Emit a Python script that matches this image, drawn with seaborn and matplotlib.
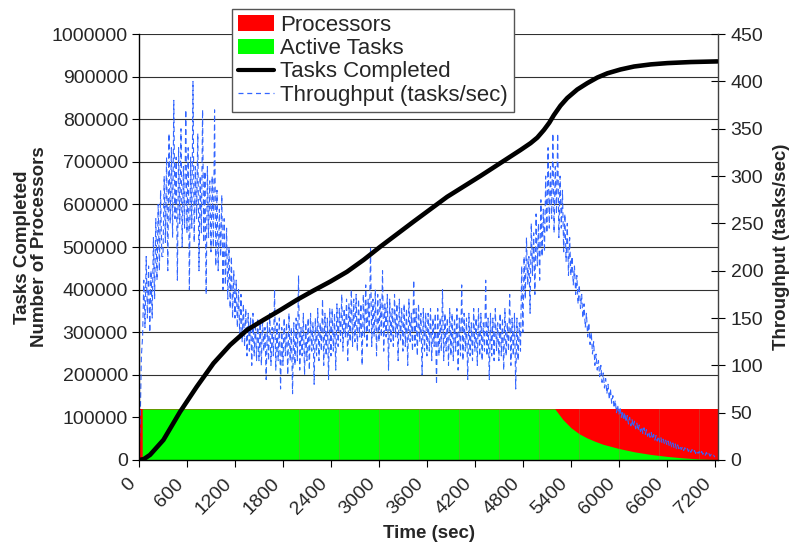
import numpy as np
import pandas as pd
import matplotlib
matplotlib.use("Agg")
import matplotlib.pyplot as plt
import seaborn as sns
from matplotlib.patches import Patch
from matplotlib.lines import Line2D

# ---------------- data ----------------
# Throughput (tasks/sec), sampled every 15 s from 0 to 7200
tp_time = list(range(0, 7201, 15))
tp_values = [
    0, 40, 110, 130, 190, 140, 215, 150, 205, 135, 200, 150, 235, 170, 255, 190, 270, 200, 285, 215,
    215, 300, 230, 320, 200, 345, 250, 330, 235, 380, 255, 320, 190, 330, 250, 350, 225, 310, 245, 370,
    240, 330, 180, 320, 245, 400, 230, 310, 255, 345, 200, 300, 240, 370, 230, 305, 175, 310, 235, 295,
    220, 300, 225, 370, 205, 285, 200, 265, 215, 280, 180, 255, 185, 245, 170, 225, 160, 215, 150, 200,
    150, 190, 140, 180, 130, 175, 125, 165, 120, 160, 110, 155, 115, 150, 100, 155, 110, 145, 105, 150,
    105, 145, 100, 150, 115, 140, 85, 145, 105, 155, 100, 140, 110, 180, 95, 145, 105, 150, 75, 140,
    100, 150, 110, 145, 90, 155, 105, 140, 70, 145, 100, 150, 105, 195, 95, 140, 110, 155, 90, 145,
    105, 150, 95, 155, 115, 145, 80, 150, 110, 160, 105, 145, 115, 170, 100, 155, 110, 150, 85, 160,
    110, 160, 115, 155, 95, 165, 120, 160, 125, 175, 115, 160, 130, 170, 105, 165, 125, 180, 120, 170,
    125, 175, 115, 170, 130, 165, 100, 175, 130, 185, 120, 170, 135, 225, 120, 170, 130, 180, 110, 175,
    125, 170, 130, 200, 115, 165, 130, 175, 95, 170, 125, 160, 120, 175, 130, 165, 105, 170, 125, 160,
    115, 165, 120, 160, 100, 170, 125, 155, 115, 190, 120, 160, 110, 165, 125, 155, 90, 160, 115, 155,
    110, 155, 115, 160, 105, 150, 120, 155, 80, 160, 110, 150, 115, 180, 105, 155, 115, 150, 100, 160,
    110, 155, 105, 150, 115, 160, 95, 150, 110, 185, 105, 155, 115, 150, 85, 155, 110, 145, 105, 160,
    115, 150, 100, 160, 110, 155, 105, 145, 115, 190, 110, 150, 85, 155, 110, 150, 105, 160, 115, 145,
    105, 155, 110, 150, 95, 160, 110, 145, 115, 175, 100, 150, 110, 155, 75, 150, 105, 145, 115, 205,
    135, 215, 170, 235, 185, 215, 155, 250, 195, 240, 175, 260, 205, 250, 190, 275, 215, 265, 220, 300,
    240, 330, 245, 310, 255, 345, 240, 310, 260, 345, 235, 300, 245, 285, 220, 260, 210, 250, 195, 235,
    195, 215, 185, 205, 175, 195, 165, 185, 160, 175, 150, 165, 140, 155, 130, 145, 122, 135, 112, 125,
    100, 112, 95, 105, 88, 100, 82, 92, 76, 86, 70, 80, 64, 75, 60, 68, 55, 63, 50, 58,
    48, 56, 45, 52, 42, 50, 40, 47, 38, 45, 36, 43, 35, 41, 33, 39, 31, 37, 30, 35,
    28, 34, 27, 32, 25, 30, 24, 29, 22, 27, 21, 26, 20, 25, 19, 24, 18, 22, 17, 21,
    16, 20, 15, 19, 14, 18, 13, 17, 12, 16, 12, 15, 11, 14, 10, 13, 10, 12, 9, 12,
    8, 11, 8, 10, 7, 10, 7, 9, 6, 9, 6, 8, 5, 8, 5, 7, 4, 6, 4, 5,
    3,
]

# Tasks completed (cumulative)
tc_time = [0, 60, 138, 305, 513, 722, 931, 1139, 1348, 1557, 1766, 1974,
           2183, 2392, 2601, 2809, 3018, 3435, 3853, 4270, 4771, 4896,
           4980, 5063, 5130, 5188, 5270, 5355, 5480, 5606, 5730, 5856,
           6020, 6190, 6400, 6607, 6900, 7232]
tc_values = [0, 2000, 12000, 47000, 113000, 172000, 227000, 270000, 305000,
             329000, 352000, 376000, 398000, 419000, 442000, 470000, 501000,
             560000, 618000, 667000, 728000, 744000, 757000, 775000, 792000,
             810000, 832000, 850000, 870000, 885000, 898000, 908000, 917000,
             924000, 929000, 932000, 934500, 936000]

# Processors (allocated)
proc_time = [10, 7240]
proc_values = [120000, 120000]

# Active tasks
act_time = [40, 5200, 5300, 5400, 5500, 5600, 5700, 5800, 5900, 6000,
            6200, 6400, 6600, 6800, 7000, 7240]
act_values = [120000, 120000, 95000, 76000, 62000, 52000, 44000, 37000,
              32000, 27000, 19000, 13000, 8500, 5000, 2500, 1000]

x_ticks = list(range(0, 7201, 600))
left_ticks = list(range(0, 1000001, 100000))
right_ticks = list(range(0, 451, 50))
seams = list(range(2000, 7001, 500))

# ---------------- style ----------------
sns.set_style("white")
plt.rcParams["font.family"] = ["Liberation Sans", "DejaVu Sans"]

fig = plt.figure(figsize=(7.92, 5.42), dpi=100)
ax = fig.add_axes([0.1755, 0.1513, 0.7311, 0.7857])
ax2 = ax.twinx()
# left axes (black line) on top, right axes (areas, throughput) beneath
ax.set_zorder(3)
ax2.set_zorder(2)
ax.patch.set_visible(False)
ax2.patch.set_visible(False)

L = ax.transData  # left-axis data transform

# grid lines in left units, drawn in bottom layer
for v in left_ticks:
    ax2.plot([0, 7240], [v, v], transform=L, color="#303030", lw=0.8, zorder=0)

# areas (left units)
ax2.fill_between(proc_time, proc_values, 0, color="#FF0000", lw=0,
                 transform=L, zorder=1)
ax2.fill_between(act_time, act_values, 0, color="#00FF00", lw=0,
                 transform=L, zorder=2)
for s in seams:
    ax2.plot([s, s], [0, 120000], transform=L, color="#a07050", lw=0.6,
             alpha=0.5, zorder=3)

# throughput on right axis
df_tp = pd.DataFrame({"t": tp_time, "v": tp_values})
sns.lineplot(data=df_tp, x="t", y="v", ax=ax2, color="#3366FF", lw=0.8,
             legend=False, zorder=4)
ax2.lines[-1].set_linestyle((0, (5, 3)))

# tasks completed on left axis
df_tc = pd.DataFrame({"t": tc_time, "v": tc_values})
sns.lineplot(data=df_tc, x="t", y="v", ax=ax, color="black", lw=3.3,
             legend=False, zorder=5)

ax.set_xlim(0, 7240)
ax.set_ylim(0, 1000000)
ax2.set_xlim(0, 7240)
ax2.set_ylim(0, 450)
ax.set_xticks(x_ticks)
ax.set_xticklabels([str(t) for t in x_ticks], rotation=45, ha="right",
                   fontsize=14)
ax.set_yticks(left_ticks)
ax.set_yticklabels([str(v) for v in left_ticks], fontsize=14)
ax2.set_yticks(right_ticks)
ax2.set_yticklabels([str(v) for v in right_ticks], fontsize=14)

ax.tick_params(axis="y", direction="out", length=5, width=0.8,
               color="black", pad=3, left=True)
ax.tick_params(axis="x", direction="out", length=5, width=0.8,
               color="black", pad=6, bottom=True)
ax2.tick_params(axis="y", direction="inout", length=10, width=0.8,
                color="black", pad=4, right=True)

for sp in ["left", "bottom"]:
    ax.spines[sp].set_color("black")
    ax.spines[sp].set_linewidth(1.0)
ax.spines["top"].set_visible(False)
ax.spines["right"].set_visible(False)
for sp in ["top", "left", "bottom"]:
    ax2.spines[sp].set_visible(False)
ax2.spines["right"].set_color("#404040")
ax2.spines["right"].set_linewidth(1.0)

ax.set_xlabel("Time (sec)", fontsize=13.5, fontweight="bold", labelpad=5)
ax.set_ylabel("Tasks Completed\nNumber of Processors", fontsize=13.5,
              fontweight="bold", labelpad=3, linespacing=1.0)
ax2.set_ylabel("Throughput (tasks/sec)", fontsize=13.5, fontweight="bold",
               labelpad=7)

handles = [
    Patch(facecolor="#FF0000", edgecolor="none"),
    Patch(facecolor="#00FF00", edgecolor="none"),
    Line2D([], [], color="black", lw=3),
    Line2D([], [], color="#3366FF", lw=0.9, linestyle=(0, (4, 3))),
]
labels = ["Processors", "Active Tasks", "Tasks Completed",
          "Throughput (tasks/sec)"]
leg = fig.legend(handles, labels, loc="upper left",
                 bbox_to_anchor=(0.293, 0.9834), fontsize=16,
                 frameon=True, fancybox=False, framealpha=1,
                 edgecolor="#555555", handlelength=1.62, handletextpad=0.27,
                 labelspacing=0.1, borderpad=0.27, borderaxespad=0)
leg.get_frame().set_linewidth(1.0)
leg.set_zorder(10)

fig.savefig("out.png", dpi=100)
